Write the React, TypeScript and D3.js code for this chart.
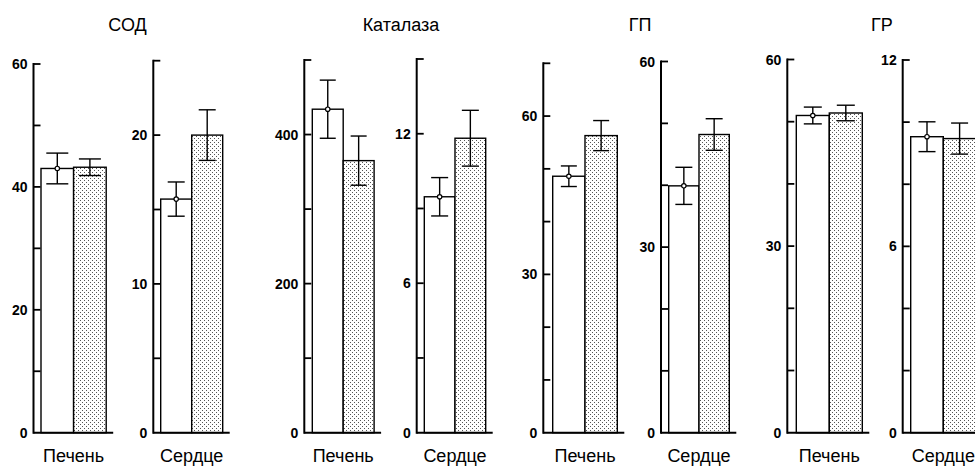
import React from 'react';
import * as d3 from 'd3';

// ---- data ----
const enzymes = ['СОД', 'Каталаза', 'ГП', 'ГР'];
const organs = ['Печень', 'Сердце'];
// order of panels: СОД-Печень, СОД-Сердце, Каталаза-Печень, Каталаза-Сердце, ГП-Печень, ГП-Сердце, ГР-Печень, ГР-Сердце
const controlMean = [43.0, 15.7, 434, 9.47, 48.6, 39.9, 51.0, 9.53];
const controlErr = [2.5, 1.15, 39, 0.77, 1.95, 3.0, 1.35, 0.48];
const treatedMean = [43.2, 20.0, 365, 11.82, 56.3, 48.2, 51.4, 9.47];
const treatedErr = [1.35, 1.7, 33, 1.12, 2.85, 2.55, 1.25, 0.5];
const axisMax = [60, 25, 500, 15, 70, 60, 60, 12];
const tickStep = [10, 5, 100, 3, 10, 10, 10, 2];
const labelStep = [20, 10, 200, 6, 30, 30, 30, 6];
const groups = ['control', 'treated'];

// ---- layout ----
const W = 975;
const H = 466;
const Y0 = 432.7;
const axisX = [33.5, 153.3, 304.3, 416.7, 543.3, 661, 787.3, 902.7];
const axisTop = [64, 60.7, 60, 59, 63.3, 61.5, 59.5, 60];
const barStart = [41, 160.7, 312.3, 424.3, 552.7, 668.7, 796.3, 910.7];
const barW = [32.6, 31, 30.9, 30.7, 32.3, 30.3, 33, 32.6];
const capW = [22, 17, 16, 17, 16, 17, 18, 17];
const titleX = [127.5, 401, 640, 882];
const FONT = '"Liberation Sans", Arial, sans-serif';

function Panel({ i }: { i: number }) {
  const y = d3.scaleLinear().domain([0, axisMax[i]]).range([Y0, axisTop[i]]);
  const x = d3
    .scaleBand<string>()
    .domain(groups)
    .range([barStart[i], barStart[i] + 2 * barW[i]])
    .padding(0);
  const ticks = d3.range(0, axisMax[i] + tickStep[i] / 2, tickStep[i]);
  const labels = d3.range(0, axisMax[i] + labelStep[i] / 2, labelStep[i]);
  const ax = axisX[i];
  const baseEnd = barStart[i] + 2 * barW[i] + 7;
  const vals = [
    { g: 'control', m: controlMean[i], e: controlErr[i] },
    { g: 'treated', m: treatedMean[i], e: treatedErr[i] },
  ];
  return (
    <g>
      {vals.map((v) => (
        <rect
          key={v.g}
          x={x(v.g)}
          y={y(v.m)}
          width={x.bandwidth()}
          height={Y0 - y(v.m)}
          fill={v.g === 'control' ? '#fff' : 'url(#dots)'}
          stroke="#000"
          strokeWidth={1.4}
        />
      ))}
      {vals.map((v) => {
        const cx = (x(v.g) as number) + x.bandwidth() / 2;
        return (
          <g key={'e' + v.g} stroke="#000" strokeWidth={1.4}>
            <line x1={cx} x2={cx} y1={y(v.m + v.e)} y2={y(v.m - v.e)} />
            <line x1={cx - capW[i] / 2} x2={cx + capW[i] / 2} y1={y(v.m + v.e)} y2={y(v.m + v.e)} />
            <line x1={cx - capW[i] / 2} x2={cx + capW[i] / 2} y1={y(v.m - v.e)} y2={y(v.m - v.e)} />
            {v.g === 'control' && <circle cx={cx} cy={y(v.m)} r={2.2} fill="#fff" strokeWidth={1.2} />}
          </g>
        );
      })}
      {/* axis */}
      <line x1={ax} x2={ax} y1={y(axisMax[i]) - 1} y2={Y0 + 1} stroke="#000" strokeWidth={2} />
      <line x1={ax} x2={baseEnd} y1={Y0} y2={Y0} stroke="#000" strokeWidth={2} />
      {ticks
        .filter((t) => t > 0)
        .map((t) => (
          <line key={t} x1={ax} x2={ax + 7} y1={y(t)} y2={y(t)} stroke="#000" strokeWidth={1.8} />
        ))}
      {labels.map((t) => (
        <text
          key={'l' + t}
          x={ax - 6}
          y={y(t)}
          dy="0.36em"
          textAnchor="end"
          fontFamily={FONT}
          fontWeight="bold"
          fontSize={14}
        >
          {t}
        </text>
      ))}
      <text
        x={barStart[i] + barW[i]}
        y={462}
        textAnchor="middle"
        fontFamily={FONT}
        fontSize={18}
      >
        {organs[i % 2]}
      </text>
    </g>
  );
}

export default function App() {
  return (
    <svg
      width={W}
      height={H}
      style={{ position: 'absolute', left: 0, top: 0, background: '#fff' }}
    >
      <defs>
        <pattern id="dots" width={4} height={4} patternUnits="userSpaceOnUse">
          <rect width={4} height={4} fill="#fff" />
          <rect x={0} y={0} width={1} height={1} fill="#555" />
          <rect x={2} y={2} width={1} height={1} fill="#555" />
        </pattern>
      </defs>
      <rect width={W} height={H} fill="#fff" />
      {enzymes.map((t, k) => (
        <text key={t} x={titleX[k]} y={31} textAnchor="middle" fontFamily={FONT} fontSize={18}>
          {t}
        </text>
      ))}
      {d3.range(8).map((i) => (
        <Panel key={i} i={i} />
      ))}
    </svg>
  );
}
